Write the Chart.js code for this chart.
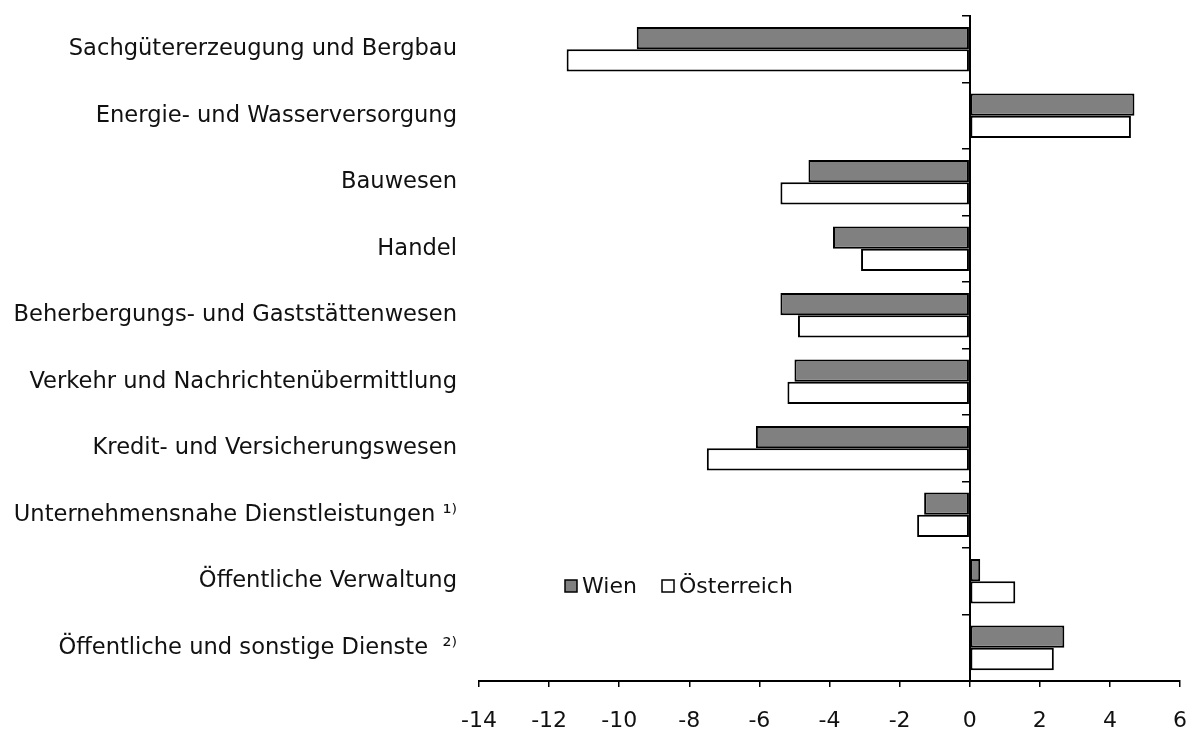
<!DOCTYPE html>
<html>
<head>
<meta charset="utf-8">
<script src="https://cdn.jsdelivr.net/npm/chart.js@4.4.1/dist/chart.umd.min.js"></script>
<style>
    html, body { margin: 0; padding: 0; background: #fff; }
    #wrap { width: 1189px; height: 729px; position: relative; }
</style>
</head>
<body>
<div id="wrap"><canvas id="chart"></canvas></div>
<script>
    // Branches, top to bottom
    const categories = [
        "Sachgütererzeugung und Bergbau",
        "Energie- und Wasserversorgung",
        "Bauwesen",
        "Handel",
        "Beherbergungs- und Gaststättenwesen",
        "Verkehr und Nachrichtenübermittlung",
        "Kredit- und Versicherungswesen",
        "Unternehmensnahe Dienstleistungen \u00b9\u207e",
        "Öffentliche Verwaltung",
        "Öffentliche und sonstige Dienste  \u00b2\u207e"
    ];

    // Change in %
    const wienValues = [-9.5, 4.7, -4.6, -3.9, -5.4, -5.0, -6.1, -1.3, 0.3, 2.7];
    const oesterreichValues = [-11.5, 4.6, -5.4, -3.1, -4.9, -5.2, -7.5, -1.5, 1.3, 2.4];

    const xMin = -14;
    const xMax = 6;
    const xStep = 2;

    const FONT = "'DejaVu Sans', sans-serif";
    Chart.defaults.font.family = FONT;
    Chart.defaults.font.size = 22;
    Chart.defaults.color = "#111";

    // legend drawn inside the plot, like the original
    const innerLegend = {
        id: "innerLegend",
        afterDraw(chart) {
            const ctx = chart.ctx;
            const spots = [565, 662];
            const cy = 586;
            ctx.save();
            ctx.font = "22px " + FONT;
            ctx.textBaseline = "middle";
            chart.data.datasets.forEach((ds, i) => {
                const x = spots[i];
                ctx.fillStyle = ds.backgroundColor;
                ctx.fillRect(x, cy - 6, 12, 12);
                ctx.strokeStyle = "#000";
                ctx.lineWidth = 1.5;
                ctx.strokeRect(x, cy - 6, 12, 12);
                ctx.fillStyle = "#111";
                ctx.fillText(ds.label, x + 17, cy + 1);
            });
            ctx.restore();
        }
    };

    const ctx = document.getElementById("chart").getContext("2d");
    new Chart(ctx, {
        type: "bar",
        data: {
            labels: categories,
            datasets: [
                {
                    label: "Wien",
                    data: wienValues,
                    backgroundColor: "#808080",
                    borderColor: "#000",
                    borderWidth: 2,
                    borderSkipped: false,
                },
                {
                    label: "Österreich",
                    data: oesterreichValues,
                    backgroundColor: "#ffffff",
                    borderColor: "#000",
                    borderWidth: 2,
                    borderSkipped: false,
                },
            ],
        },
        options: {
            indexAxis: "y",
            responsive: true,
            maintainAspectRatio: false,
            animation: false,
            categoryPercentage: 0.67,
            barPercentage: 1.0,
            layout: { padding: { top: 16, right: 8, bottom: -27, left: 0 } },
            plugins: {
                legend: { display: false },
                tooltip: { enabled: false },
            },
            scales: {
                x: {
                    type: "linear",
                    min: xMin,
                    max: xMax,
                    ticks: {
                        stepSize: xStep,
                        padding: 2,
                        font: { size: 22, lineHeight: 2.95 },
                    },
                    grid: {
                        drawOnChartArea: false,
                        drawTicks: true,
                        tickLength: 6,
                        color: "#000",
                        lineWidth: 1.5,
                    },
                    border: { display: true, color: "#000", width: 2 },
                },
                y: {
                    type: "category",
                    position: "left",
                    grid: { display: false, drawTicks: true, tickLength: 22 },
                    border: { display: false },
                    ticks: { padding: 0, font: { size: 22.6 } },
                    afterFit: (scale) => { scale.width = 479; },
                },
                y2: {
                    type: "category",
                    axis: "y",
                    position: { x: 0 },
                    offset: true,
                    ticks: { display: false },
                    grid: {
                        offset: true,
                        drawOnChartArea: false,
                        drawTicks: true,
                        tickLength: 7,
                        color: "#000",
                        lineWidth: 1.5,
                    },
                    border: { display: true, color: "#000", width: 2 },
                },
            },
        },
        plugins: [innerLegend],
    });
</script>
</body>
</html>
